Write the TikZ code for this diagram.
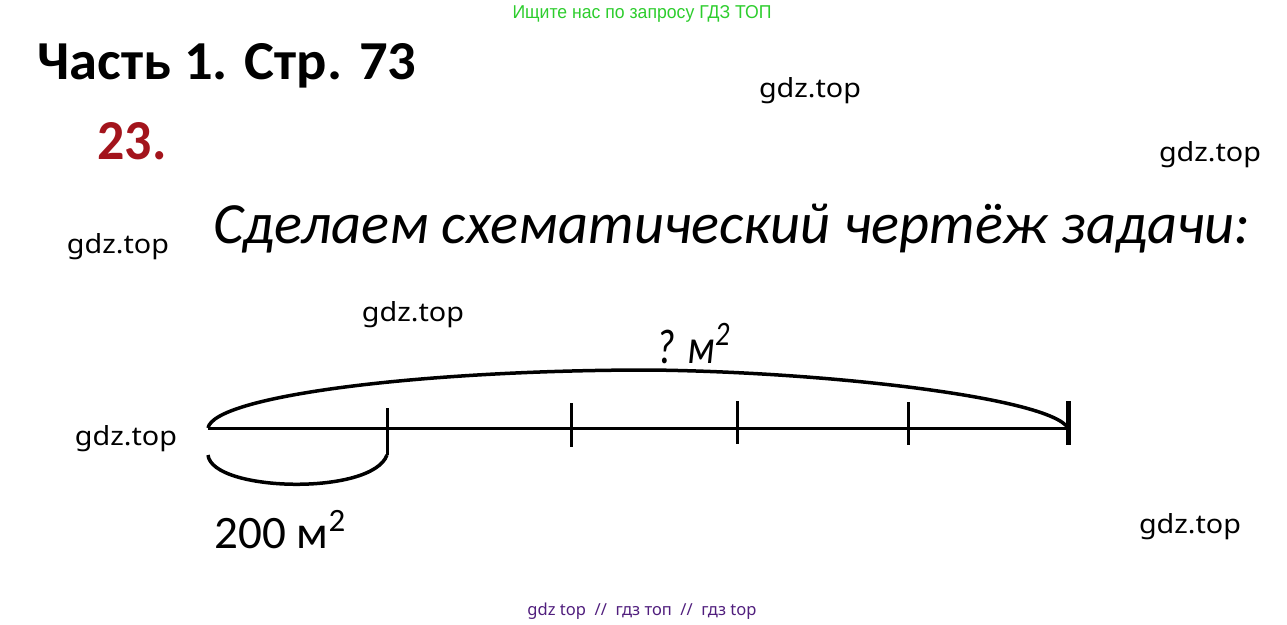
\documentclass[tikz,border=0pt]{standalone}
\usepackage{fontspec}
\usepackage{graphicx}
\setmainfont{Carlito}
\newfontfamily\wmfont{Liberation Sans}
\newfontfamily\gdzfont{Noto Sans}
\definecolor{darkred}{RGB}{163,20,28}
\definecolor{wmgreen}{RGB}{45,205,45}
\definecolor{wmpurple}{RGB}{80,30,125}
\tikzset{txt/.style={inner sep=0, anchor=base west}}
\tikzset{mark text/.style={inner sep=0, anchor=base}}
\newcommand{\gdzmark}{\resizebox{102pt}{20pt}{\gdzfont gdz.top}}

\begin{document}
\begin{tikzpicture}[x=1pt, y=-1pt, line width=3pt]

\useasboundingbox (0,0) rectangle (1287,624);

\node[mark text] (search) at (642,18) {\color{wmgreen}\resizebox{259pt}{13pt}{\wmfont Ищите нас по запросу ГДЗ ТОП}};
\node[txt] (part) at (36,79) {\resizebox{379pt}{36pt}{\bfseries Часть 1. Стр. 73}};
\node[txt] (num) at (96,159) {\color{darkred}\resizebox{69pt}{37pt}{\bfseries 23.}};
\node[txt] (task) at (212,243) {\resizebox{1036pt}{!}{\itshape Сделаем схематический чертёж задачи:}};

\foreach \x/\y [count=\i] in {810/97, 1210/161, 118/253, 413/321, 126/445, 1190/533}
  \node[mark text] (gdz\i) at (\x,\y) {\gdzmark};

% segment
\coordinate (p0) at (208,428);
\coordinate (p5) at (1068,428);
\draw (p0) -- (p5);
\foreach \n/\x/\a/\b in {1/387/408/455, 2/571/403/447, 3/737/401/444, 4/908/402/445}
  \draw (\x,\a) coordinate (t\n a) -- (\x,\b) coordinate (t\n b);
\draw[line width=5pt] (1068,401) -- (1068,445);

\draw[line width=3.5pt] (p0) .. controls (214,396) and (420,370) .. (650,370)
  .. controls (830,372) and (1050,398) .. (p5);
\coordinate (q0) at (208,455);
\draw[line width=3.5pt] (q0) .. controls (212,492) and (372,496) .. (t1b);

\node[txt] (whole) at (655,363) {\resizebox{75pt}{40pt}{\itshape ? м\textsuperscript{2}}};
\node[txt] (piece) at (213,548) {\resizebox{133pt}{38pt}{200 м\textsuperscript{2}}};

\node[mark text] (foot) at (642,615) {\color{wmpurple}\resizebox{229pt}{!}{\gdzfont gdz top\ \ //\ \ гдз топ\ \ //\ \ гдз top}};

\end{tikzpicture}
\end{document}
